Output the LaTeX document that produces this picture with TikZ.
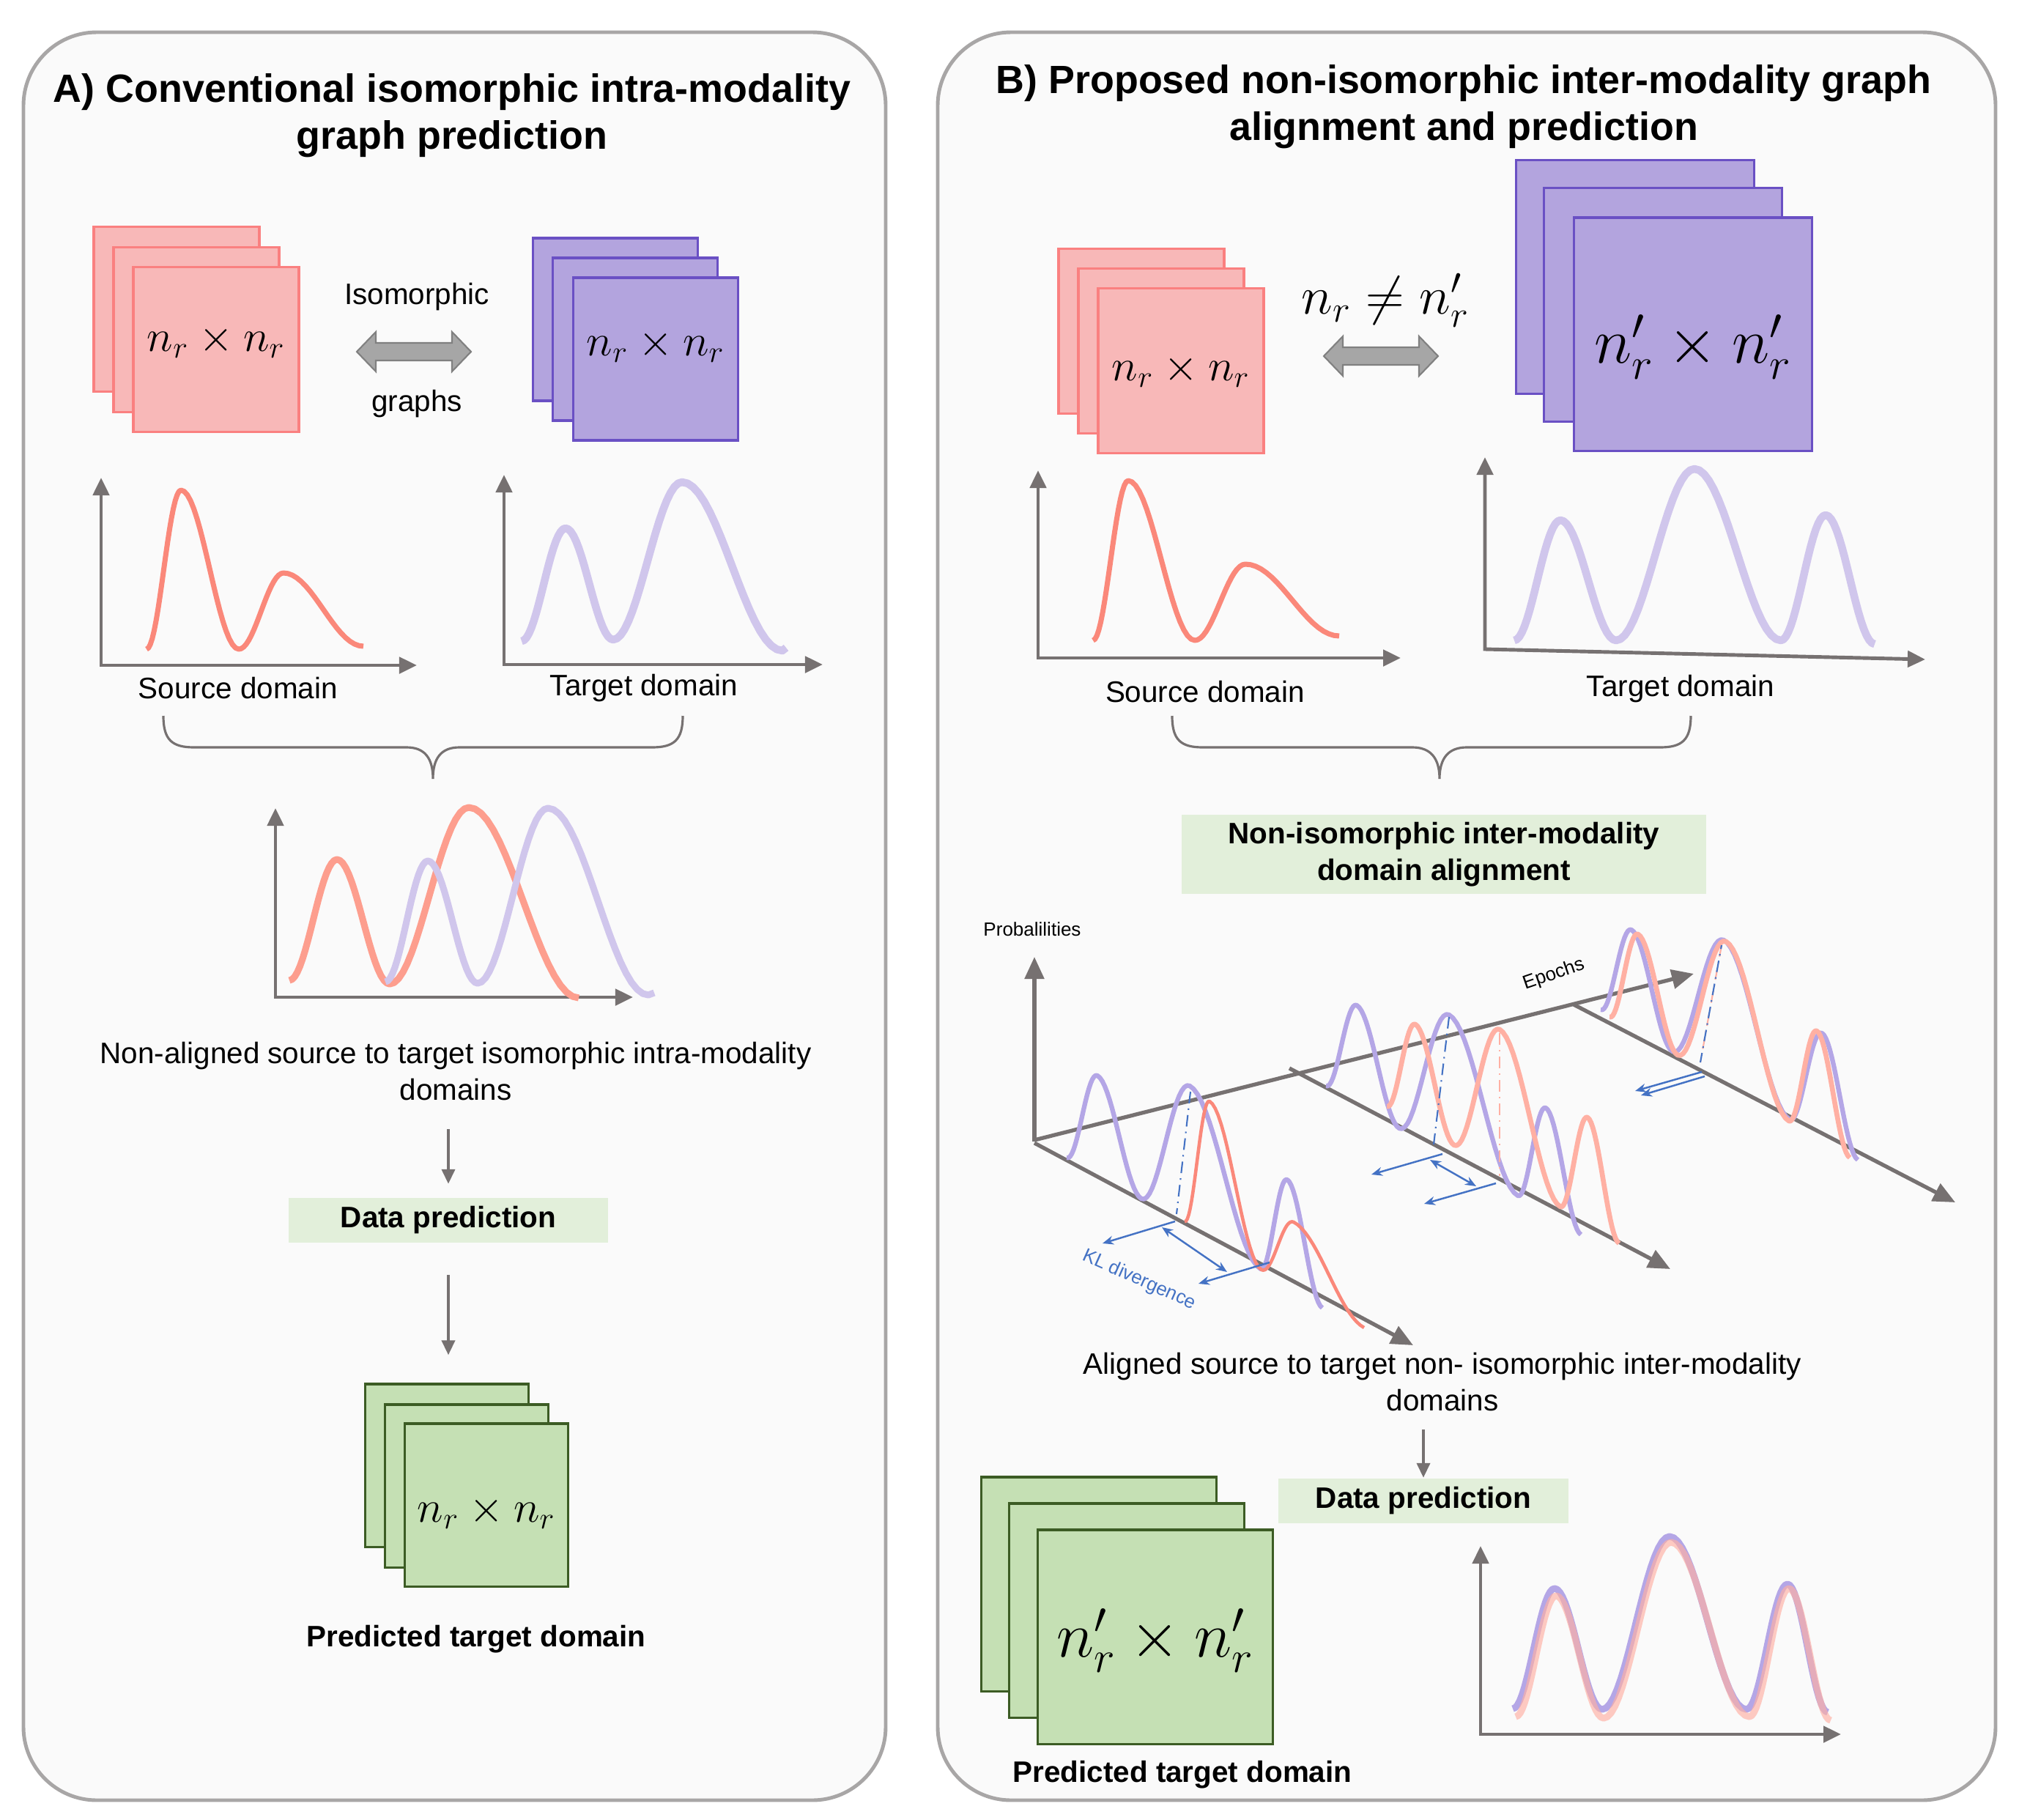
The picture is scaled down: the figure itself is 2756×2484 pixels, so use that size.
\documentclass[tikz,border=0pt]{standalone}
\usepackage{fontspec}
\setmainfont{Liberation Sans}
\usetikzlibrary{arrows.meta}

\definecolor{panelbg}{RGB}{250,250,250}
\definecolor{panelline}{RGB}{168,166,166}
\definecolor{pinkfill}{RGB}{248,184,184}
\definecolor{pinkline}{RGB}{250,128,128}
\definecolor{purplefill}{RGB}{179,164,222}
\definecolor{purpleline}{RGB}{106,80,196}
\definecolor{greenfill}{RGB}{197,224,180}
\definecolor{greenline}{RGB}{60,92,36}
\definecolor{labelfill}{RGB}{226,239,218}
\definecolor{axisgray}{RGB}{118,113,113}
\definecolor{salmon}{RGB}{250,136,122}
\definecolor{salmonlight}{RGB}{253,158,142}
\definecolor{lavender}{RGB}{208,198,236}
\definecolor{violetc}{RGB}{180,166,230}
\definecolor{peachc}{RGB}{255,176,163}
\definecolor{klblue}{RGB}{68,114,196}
\definecolor{arrowfill}{RGB}{166,166,166}
\definecolor{arrowline}{RGB}{128,128,128}

% half a period between two extrema, #5 = slope of the base line
\newcommand{\wave}[5]{-- plot[domain=0:180,samples=19,variable=\x] ({#1+\x/180*(#3-#1)},{#2+#5*\x/180*(#3-#1)+(#4-#2-#5*(#3-#1))*(1-cos(\x))/2})}

% fat grey double arrow
\newcommand{\dblarrow}[1]{\filldraw[fill=arrowfill,draw=arrowline,line width=0.6pt,shift={#1}] (-78,0) -- (-52,-27) -- (-52,-12) -- (52,-12) -- (52,-27) -- (78,0) -- (52,27) -- (52,12) -- (-52,12) -- (-52,27) -- cycle;}

% label moved up/down inside its box
\newcommand{\lift}[2]{\raisebox{#1}[\height][\depth]{#2}}

\begin{document}
\begin{tikzpicture}[x=0.01cm,y=-0.01cm,
    panel/.style={draw=panelline,fill=panelbg,line width=1.4pt,rounded corners=1cm},
    title/.style={font=\fontsize{15.3}{18.2}\selectfont\bfseries,align=center},
    txt/.style={font=\fontsize{11.5}{14}\selectfont,align=center},
    boldtxt/.style={font=\fontsize{11.5}{14}\selectfont\bfseries,align=center},
    smalltxt/.style={font=\fontsize{7.4}{9}\selectfont},
    mat/.style={font=\fontsize{17}{20}\selectfont},
    bigmat/.style={font=\fontsize{24}{28}\selectfont},
    stack/.style={line width=0.9pt,inner sep=0pt},
    pinkbox/.style={stack,draw=pinkline,fill=pinkfill,minimum width=2.26cm,minimum height=2.25cm},
    purplebox/.style={stack,draw=purpleline,fill=purplefill,minimum width=2.25cm,minimum height=2.22cm},
    bigpurplebox/.style={stack,draw=purpleline,fill=purplefill,minimum width=3.25cm,minimum height=3.18cm},
    greenbox/.style={stack,draw=greenline,fill=greenfill,minimum width=2.23cm,minimum height=2.22cm},
    biggreenbox/.style={stack,draw=greenline,fill=greenfill,minimum width=3.21cm,minimum height=2.92cm},
    labelbox/.style={boldtxt,fill=labelfill,inner sep=0pt},
    axisline/.style={draw=axisgray,line width=1.4pt,{Triangle[length=0.24cm,width=0.22cm]}-{Triangle[length=0.24cm,width=0.22cm]}},
    axis3d/.style={draw=axisgray,line width=1.5pt,-{Triangle[length=0.3cm,width=0.26cm]}},
    darrow/.style={draw=axisgray,line width=1.1pt,-{Triangle[length=0.2cm,width=0.18cm]}},
    brace/.style={draw=axisgray,line width=0.9pt},
    klarrow/.style={draw=klblue,line width=0.7pt,-{Stealth[length=0.15cm,width=0.12cm]}},
    kldouble/.style={draw=klblue,line width=0.7pt,{Stealth[length=0.15cm,width=0.12cm]}-{Stealth[length=0.15cm,width=0.12cm]}},
    dashdot/.style={line width=0.6pt,dash pattern=on 4.5pt off 2pt on 0.6pt off 2pt},
    curve/.style={line join=round}]

\useasboundingbox (0,0) rectangle (2756,2484);

% panels
\draw[panel] (32,44) rectangle (1209,2457);
\draw[panel] (1280,44) rectangle (2724,2457);

\node[title] (titleA) at (617,158) {A) Conventional isomorphic intra-modality\\graph prediction};
\node[title] (titleB) at (1998,146) {B) Proposed non-isomorphic inter-modality graph\\alignment and prediction};

%%%%%%%%%%%%%%%% A %%%%%%%%%%%%%%%%
\node[pinkbox] (srcA1) at (241,422) {};
\node[pinkbox] (srcA2) at (268,450) {};
\node[pinkbox,mat] (srcA3) at (295,477) {\lift{3pt}{$n_r \times n_r$}};

\node[purplebox] (tgtA1) at (840,436) {};
\node[purplebox] (tgtA2) at (867,463) {};
\node[purplebox,mat] (tgtA3) at (895,490) {\lift{5pt}{$n_r \times n_r$}};

\node[txt] (isoA) at (569,405) {Isomorphic};
\node[txt] (graphsA) at (569,551) {graphs};
\dblarrow{(565,480)}

% source / target
\draw[axisline] (138,652) -- (138,908) -- (569,908);
\draw[curve,salmon,line width=2pt] (200,886) \wave{200}{886}{247}{669}{0} \wave{247}{669}{326}{886}{0} \wave{326}{886}{387}{782}{0} \wave{387}{782}{496}{882}{0};
\node[txt] (srcAlab) at (325,939) {Source domain};

\draw[axisline] (688,648) -- (688,907) -- (1123,907);
\draw[curve,lavender,line width=3pt] (712,875) \wave{712}{875}{772}{721}{0} \wave{772}{721}{837}{873}{0} \wave{837}{873}{931}{658}{0} \wave{931}{658}{1068}{888}{0} -- (1073,884);
\node[txt] (tgtAlab) at (879,939) {Target domain};

\draw[brace] (223,977) .. controls (223,1010) and (235,1020) .. (265,1020) -- (555,1020) .. controls (580,1020) and (591,1035) .. (591,1063) .. controls (591,1035) and (602,1020) .. (627,1020) -- (890,1020) .. controls (920,1020) and (932,1010) .. (932,977);

% both together
\draw[axisline] (376,1103) -- (376,1361) -- (864,1361);
\draw[curve,salmonlight,line width=2.6pt] (395,1338) \wave{395}{1338}{460}{1173}{0} \wave{460}{1173}{532}{1343}{0} \wave{532}{1343}{640}{1102}{0} \wave{640}{1102}{790}{1362}{0};
\draw[curve,lavender,line width=2.6pt] (526,1340) \wave{526}{1340}{584}{1175}{0} \wave{584}{1175}{652}{1342}{0} \wave{652}{1342}{748}{1103}{0} \wave{748}{1103}{885}{1358}{0} -- (893,1355);

\node[txt] (nonalA) at (622,1462) {Non-aligned source to target isomorphic intra-modality\\domains};
\node[labelbox,minimum width=4.36cm,minimum height=0.61cm] (dpA) at (612,1665) {Data prediction};

\node[greenbox] (gA1) at (610,2000) {};
\node[greenbox] (gA2) at (637,2028) {};
\node[greenbox,mat] (gA3) at (664,2054) {\lift{-3pt}{$n_r \times n_r$}};
\node[boldtxt] (predA) at (650,2237) {Predicted target domain};

\draw[darrow,shorten <=0.27cm,shorten >=0.18cm] (nonalA.south -| dpA.north) -- (dpA.north);
\draw[darrow,shorten <=0.44cm,shorten >=0.38cm] (dpA.south) -- (dpA.south |- gA1.north);

%%%%%%%%%%%%%%%% B %%%%%%%%%%%%%%%%
\node[pinkbox] (srcB1) at (1558,452) {};
\node[pinkbox] (srcB2) at (1585,479) {};
\node[pinkbox,mat] (srcB3) at (1612,506) {$n_r \times n_r$};

\node[bigpurplebox] (tgtB1) at (2232,378) {};
\node[bigpurplebox] (tgtB2) at (2270,416) {};
\node[bigpurplebox,bigmat] (tgtB3) at (2311,456) {\lift{-5pt}{$n'_r \times n'_r$}};

\node[font=\fontsize{20}{24}\selectfont] (neq) at (1891,410) {$n_r \neq n'_r$};
\dblarrow{(1885,486)}

\draw[axisline] (1417,642) -- (1417,898) -- (1912,898);
\draw[curve,salmon,line width=2pt] (1492,874) \wave{1492}{874}{1540}{656}{0} \wave{1540}{656}{1631}{874}{0} \wave{1631}{874}{1700}{770}{0} \wave{1700}{770}{1828}{868}{0};
\node[txt] (srcBlab) at (1645,944) {Source domain};

\draw[axisline] (2027,624) -- (2027,886) -- (2628,900);
\draw[curve,lavender,line width=3pt] (2067,874) \wave{2067}{874}{2130}{710}{0} \wave{2130}{710}{2206}{874}{0} \wave{2206}{874}{2313}{640}{0} \wave{2313}{640}{2431}{874}{0} \wave{2431}{874}{2492}{703}{0} \wave{2492}{703}{2559}{879}{0};
\node[txt] (tgtBlab) at (2294,940) {Target domain};

\draw[brace] (1600,977) .. controls (1600,1010) and (1612,1020) .. (1642,1020) -- (1928,1020) .. controls (1953,1020) and (1965,1035) .. (1965,1063) .. controls (1965,1035) and (1977,1020) .. (2002,1020) -- (2266,1020) .. controls (2296,1020) and (2308,1010) .. (2308,977);

\node[labelbox,minimum width=7.15cm,minimum height=1.07cm] (alignB) at (1971,1166) {Non-isomorphic inter-modality\\domain alignment};

% epochs picture
\draw[axis3d] (1412,1558) -- (1412,1306);
\draw[axis3d] (1412,1556) -- (2312,1329);
\draw[axis3d] (1412,1560) -- (1929,1836);
\draw[axis3d] (1760,1458) -- (2280,1732);
\draw[axis3d] (2148,1371) -- (2669,1641);
\node[smalltxt] (prob) at (1409,1268) {Probalilities};
\node[smalltxt,rotate=19] (epochs) at (2121,1330) {Epochs};

% first epoch
\draw[curve,violetc,line width=1.8pt] (1456,1580) \wave{1456}{1580}{1498}{1468}{0.53} \wave{1498}{1468}{1558}{1636}{0.53} \wave{1558}{1636}{1624}{1482}{0.53} \wave{1624}{1482}{1721}{1732}{0.53} \wave{1721}{1732}{1757}{1610}{0.53} \wave{1757}{1610}{1805}{1785}{0.53};
\draw[curve,salmon,line width=1.3pt] (1617,1667) \wave{1617}{1667}{1651}{1503}{0.53} \wave{1651}{1503}{1722}{1733}{0.53} \wave{1722}{1733}{1766}{1668}{0.53} \wave{1766}{1668}{1862}{1812}{0.53};
\draw[dashdot,klblue] (1625,1490) -- (1606,1657);
\draw[klarrow] (1604,1667) -- (1505,1697);
\draw[kldouble] (1586,1675) -- (1675,1736);
\draw[klarrow] (1733,1723) -- (1636,1752);
\node[smalltxt,text=klblue,rotate=-24] (kl) at (1555,1747) {KL divergence};

% middle epoch
\draw[curve,violetc,line width=1.8pt] (1810,1482) \wave{1810}{1482}{1852}{1372}{0.53} \wave{1852}{1372}{1910}{1540}{0.53} \wave{1910}{1540}{1978}{1385}{0.53} \wave{1978}{1385}{2072}{1632}{0.53} \wave{2072}{1632}{2110}{1512}{0.53} \wave{2110}{1512}{2158}{1685}{0.53};
\draw[curve,peachc,line width=1.9pt] (1893,1510) \wave{1893}{1510}{1932}{1398}{0.53} \wave{1932}{1398}{1985}{1563}{0.53} \wave{1985}{1563}{2047}{1405}{0.53} \wave{2047}{1405}{2130}{1647}{0.53} \wave{2130}{1647}{2167}{1525}{0.53} \wave{2167}{1525}{2210}{1697}{0.53};
\draw[dashdot,klblue] (1978,1388) -- (1957,1562);
\draw[dashdot,peachc] (2047,1410) -- (2047,1605);
\draw[klarrow] (1969,1575) -- (1872,1603);
\draw[kldouble] (1952,1583) -- (2015,1619);
\draw[klarrow] (2042,1615) -- (1944,1643);

% last epoch
\draw[curve,violetc,line width=1.8pt] (2185,1378) \wave{2185}{1378}{2227}{1269}{0.53} \wave{2227}{1269}{2283}{1435}{0.53} \wave{2283}{1435}{2353}{1283}{0.53} \wave{2353}{1283}{2443}{1528}{0.53} \wave{2443}{1528}{2487}{1410}{0.53} \wave{2487}{1410}{2536}{1583}{0.53};
\draw[curve,peachc,line width=1.9pt] (2197,1388) \wave{2197}{1388}{2236}{1275}{0.53} \wave{2236}{1275}{2290}{1440}{0.53} \wave{2290}{1440}{2356}{1285}{0.53} \wave{2356}{1285}{2442}{1530}{0.53} \wave{2442}{1530}{2480}{1407}{0.53} \wave{2480}{1407}{2525}{1580}{0.53};
\draw[dashdot,peachc] (2350,1290) -- (2321,1450);
\draw[dashdot,klblue,dash phase=3pt] (2350,1290) -- (2321,1450);
\draw[klarrow] (2323,1463) -- (2232,1489);
\draw[klarrow] (2327,1469) -- (2240,1495);

\node[txt] (aligB) at (1969,1886) {Aligned source to target non- isomorphic inter-modality\\domains};
\node[labelbox,minimum width=3.96cm,minimum height=0.61cm] (dpB) at (1943,2048) {Data prediction};
\draw[darrow,shorten <=0.13cm] (aligB.south -| dpB.north) -- (dpB.north);

\node[biggreenbox] (gB1) at (1500,2162) {};
\node[biggreenbox] (gB2) at (1538,2198) {};
\node[biggreenbox,bigmat] (gB3) at (1577,2234) {\lift{-1.5pt}{$n'_r \times n'_r$}};
\node[boldtxt] (predB) at (1614,2422) {Predicted target domain};

% predicted vs target
\draw[axisline] (2021,2110) -- (2021,2367) -- (2513,2367);
\draw[curve,violetc,line width=2.6pt] (2065,2332) \wave{2065}{2332}{2122}{2168}{0} \wave{2122}{2168}{2187}{2333}{0} \wave{2187}{2333}{2279}{2097}{0} \wave{2279}{2097}{2384}{2333}{0} \wave{2384}{2333}{2440}{2162}{0} \wave{2440}{2162}{2495}{2337}{0};
\draw[curve,peachc,opacity=0.65,line width=2.6pt] (2069,2343) \wave{2069}{2343}{2124}{2178}{0} \wave{2124}{2178}{2189}{2345}{0} \wave{2189}{2345}{2281}{2105}{0} \wave{2281}{2105}{2388}{2343}{0} \wave{2388}{2343}{2442}{2168}{0} \wave{2442}{2168}{2499}{2348}{0};

\end{tikzpicture}
\end{document}
